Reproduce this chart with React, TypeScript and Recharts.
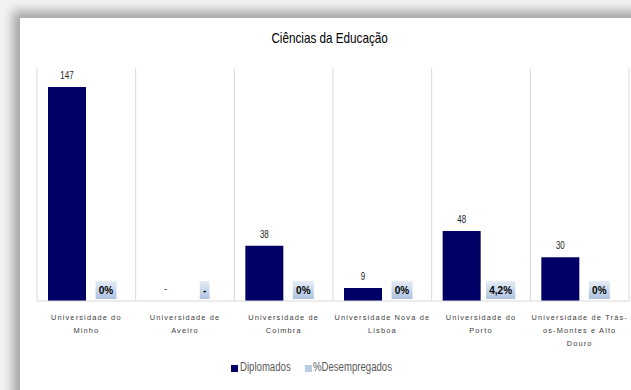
import React from 'react';
import { BarChart, Bar, XAxis, YAxis, CartesianGrid, LabelList, Cell } from 'recharts';

const titulo = 'Ciências da Educação';
const universidades: string[][] = [
  ['Universidade do', 'Minho'],
  ['Universidade de', 'Aveiro'],
  ['Universidade de', 'Coimbra'],
  ['Universidade Nova de', 'Lisboa'],
  ['Universidade do', 'Porto'],
  ['Universidade de Trás-', 'os-Montes e Alto', 'Douro'],
];
const diplomados: (number | null)[] = [147, null, 38, 9, 48, 30];
const desempregados: (number | null)[] = [0, null, 0, 0, 4.2, 0];
const serieNomes = ['Diplomados', '%Desempregados'];

const NAVY = '#000066';
const LIGHT = '#b9cde5';

const data = universidades.map((lines, i) => {
  const d = diplomados[i];
  const p = desempregados[i];
  return {
    name: lines.join(' '),
    dip: d ?? 0,
    dipLabel: d == null ? '-' : String(d),
    dipMissing: d == null,
    des: p ?? 0,
    desLabel: p == null ? '-' : String(p).replace('.', ',') + '%',
    desMissing: p == null,
  };
});

const charW = (s: string) => {
  let w = 0;
  for (const c of s) {
    if (c === ',') w += 2.8;
    else if (c === '%') w += 8.9;
    else if (c === '-') w += 3.3;
    else w += 5.6;
  }
  return w;
};

const DesLabel = (props: any) => {
  const { x, y, width, height, value, index } = props;
  const base = Number(y) + Number(height);
  const cx = Number(x) + Number(width) / 2;
  const str = String(value);
  const bw = charW(str) + 6.5;
  const bh = 18;
  const id = `desgrad-${index}`;
  return (
    <g>
      <defs>
        <linearGradient id={id} x1="0" y1="0" x2="0" y2="1">
          <stop offset="0%" stopColor="#e6edf6" />
          <stop offset="100%" stopColor="#adc3e1" />
        </linearGradient>
      </defs>
      <rect x={cx - bw / 2} y={base - bh - 2} width={bw} height={bh} fill={`url(#${id})`} />
      <text
        x={cx}
        y={base - 7}
        textAnchor="middle"
        fontFamily="Liberation Sans, Arial, sans-serif"
        fontWeight="bold"
        fontSize={10}
        fill="#000"
      >
        {str}
      </text>
    </g>
  );
};

const DipLabel = (props: any) => {
  const { x, y, width, value } = props;
  const cx = Number(x) + Number(width) / 2;
  return (
    <text
      transform={`translate(${cx},${Number(y) - 8}) scale(0.8,1)`}
      textAnchor="middle"
      fontFamily="Liberation Sans, Arial, sans-serif"
      fontSize={10}
      fill="#262626"
    >
      {String(value)}
    </text>
  );
};

const CatTick = (props: any) => {
  const { x, y, payload } = props;
  const lines = universidades[payload.index] || [];
  return (
    <g>
      <text
        x={x}
        y={y + 11}
        textAnchor="middle"
        fontFamily="Liberation Sans, Arial, sans-serif"
        fontSize={7.4}
        letterSpacing={1.15}
        fill="#404040"
      >
        {lines.map((l, i) => (
          <tspan key={i} x={x} dy={i === 0 ? 0 : 13}>
            {l}
          </tspan>
        ))}
      </text>
    </g>
  );
};

const narrow: React.CSSProperties = {
  position: 'absolute',
  whiteSpace: 'nowrap',
  transformOrigin: 'left center',
  fontFamily: 'Liberation Sans, Arial, sans-serif',
};

export default function App() {
  const n = data.length;
  return (
    <div style={{ position: 'fixed', left: 0, top: 0, width: 631, height: 390, background: '#f2f2f2', overflow: 'hidden' }}>
      <div
        style={{
          position: 'absolute',
          left: 19,
          top: 17,
          width: 640,
          height: 400,
          background: '#fff',
          boxShadow: '-3px -3px 10px 3px rgba(0,0,0,0.32)',
          borderLeft: '1px solid #b0b0b0',
          borderTop: '1px solid #b0b0b0',
        }}
      />
      <div
        style={{
          position: 'absolute',
          left: 19,
          width: 612,
          top: 29,
          textAlign: 'center',
          fontFamily: 'Liberation Sans, Arial, sans-serif',
          fontSize: 15,
          color: '#000',
          transform: 'scaleX(0.78)',
          transformOrigin: '327px center',
        }}
      >
        {titulo}
      </div>
      <div style={{ position: 'absolute', left: 0, top: 0 }}>
        <BarChart
          width={631}
          height={390}
          data={data}
          margin={{ top: 68, right: 2, left: 37, bottom: 29 }}
          barGap={1}
        >
          <CartesianGrid
            horizontal={false}
            stroke="#d9d9d9"
            verticalCoordinatesGenerator={({ offset }: any) =>
              Array.from({ length: n + 1 }, (_, i) => offset.left + (i * offset.width) / n)
            }
          />
          <XAxis
            dataKey="name"
            interval={0}
            tickLine={false}
            axisLine={{ stroke: '#d9d9d9' }}
            tick={<CatTick />}
            height={60}
          />
          <YAxis yAxisId="left" hide domain={[0, 160]} />
          <YAxis yAxisId="right" orientation="right" hide domain={[0, 100]} />
          <Bar yAxisId="left" dataKey="dip" fill={NAVY} barSize={38} minPointSize={1} isAnimationActive={false}>
            {data.map((d, i) => (
              <Cell key={i} fill={d.dipMissing ? 'none' : NAVY} />
            ))}
            <LabelList dataKey="dipLabel" content={<DipLabel />} />
          </Bar>
          <Bar yAxisId="right" dataKey="des" fill="none" barSize={38} minPointSize={1} isAnimationActive={false}>
            <LabelList dataKey="desLabel" content={<DesLabel />} />
          </Bar>
        </BarChart>
      </div>
      <span style={{ ...narrow, left: 231, top: 365, width: 7, height: 7, background: NAVY }} />
      <span style={{ ...narrow, left: 240, top: 360, fontSize: 12, color: '#595959', transform: 'scaleX(0.8)' }}>
        {serieNomes[0]}
      </span>
      <span style={{ ...narrow, left: 305, top: 365, width: 7, height: 7, background: LIGHT }} />
      <span style={{ ...narrow, left: 313, top: 360, fontSize: 12, color: '#595959', transform: 'scaleX(0.8)' }}>
        {serieNomes[1]}
      </span>
    </div>
  );
}
